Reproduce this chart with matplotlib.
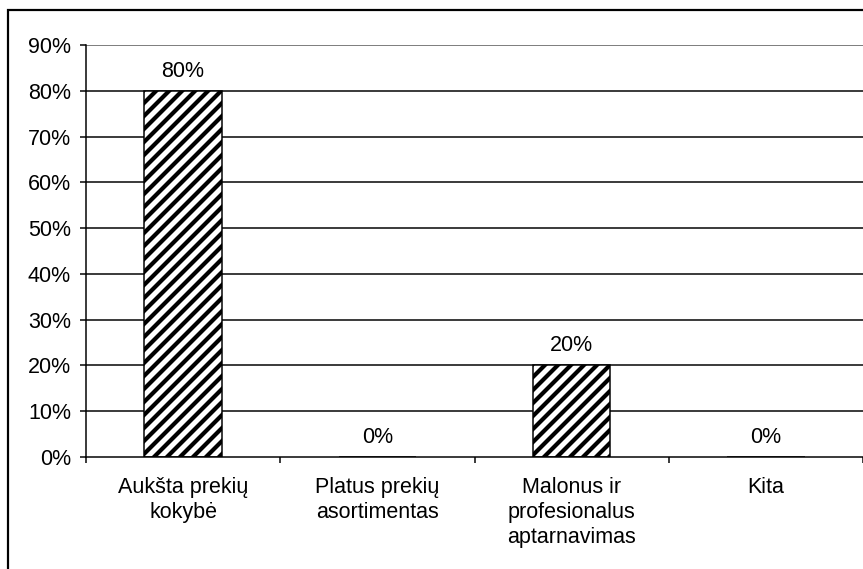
import matplotlib
matplotlib.use("Agg")
import matplotlib.pyplot as plt
from matplotlib.patches import Rectangle

categories = ["Aukšta prekių\nkokybė", "Platus prekių\nasortimentas",
              "Malonus ir\nprofesionalus\naptarnavimas", "Kita"]
values = [80, 0, 20, 0]
value_labels = ["80%", "0%", "20%", "0%"]
yticks = [0, 10, 20, 30, 40, 50, 60, 70, 80, 90]
ytick_labels = ["0%", "10%", "20%", "30%", "40%", "50%", "60%", "70%", "80%", "90%"]

DPI = 78
W, H = 863, 569


def px(v):
    return v * 72.0 / DPI


plt.rcParams['font.family'] = ['Liberation Sans', 'DejaVu Sans']
plt.rcParams['hatch.linewidth'] = px(4.2)
plt.rcParams['hatch.color'] = 'black'

fig = plt.figure(figsize=(W / DPI, H / DPI), dpi=DPI)
ax = fig.add_axes([86 / W, 1 - 457 / H, 1 - 86 / W, (457 - 45) / H])

FS = px(21.5)
x = list(range(len(categories)))
ax.bar(x, values, width=0.4, facecolor='white', edgecolor='black',
       linewidth=px(1.5), hatch='//', zorder=3)

for xi, v, lab in zip(x, values, value_labels):
    ax.annotate(lab, (xi, v), xytext=(0, px(9)), textcoords='offset points',
                ha='center', va='bottom', fontsize=FS, zorder=4)

ax.set_xlim(-0.5, 3.5)
ax.set_ylim(0, 90)
for t in yticks[1:-1]:
    ax.axhline(t, color='black', linewidth=px(1.5), zorder=1)
ax.axhline(90, color='#808080', linewidth=px(2), zorder=1)

ax.set_yticks(yticks)
ax.set_yticklabels(ytick_labels, fontsize=FS)
ax.set_xticks([-0.5, 0.5, 1.5, 2.5, 3.5])
ax.set_xticklabels([])
ax.set_xticks(x, minor=True)
ax.set_xticklabels(categories, minor=True, fontsize=FS, linespacing=1.25,
                   va='top', ha='center')
ax.tick_params(axis='x', which='major', direction='out', length=px(6), width=px(1.5))
ax.tick_params(axis='x', which='minor', length=0, pad=px(20))
ax.tick_params(axis='y', direction='out', length=px(6), width=px(1.5), pad=px(9))

for s in ['top', 'right']:
    ax.spines[s].set_visible(False)
for s in ['left', 'bottom']:
    ax.spines[s].set_linewidth(px(1.5))
    ax.spines[s].set_color('black')
    ax.spines[s].set_zorder(5)

fig.patches.append(Rectangle((8 / W, -0.1), 1.2, 1.1 - 10 / H,
                             transform=fig.transFigure, fill=False,
                             edgecolor='black', linewidth=px(2.2)))

fig.savefig("out.png", dpi=DPI)
